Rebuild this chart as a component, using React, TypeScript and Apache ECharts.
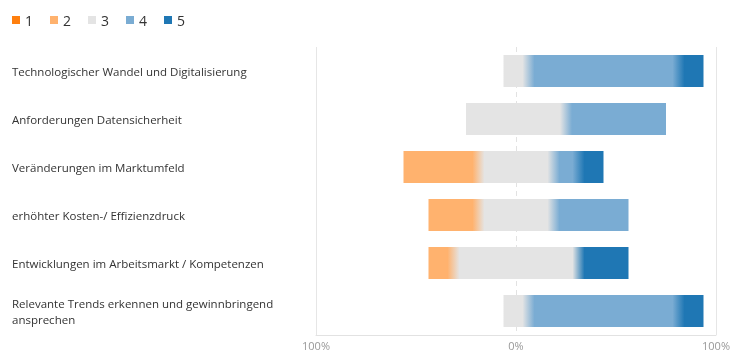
import React, { useEffect, useRef } from 'react';
import * as echarts from 'echarts';

const categories = [
  'Technologischer Wandel und Digitalisierung',
  'Anforderungen Datensicherheit',
  'Veränderungen im Marktumfeld',
  'erhöhter Kosten-/ Effizienzdruck',
  'Entwicklungen im Arbeitsmarkt / Kompetenzen',
  'Relevante Trends erkennen und gewinnbringend\nansprechen',
];

// percentage share of each answer (1..5) per category
const answer1 = [0, 0, 0, 0, 0, 0];
const answer2 = [0, 0, 37.5, 25, 12.5, 0];
const answer3 = [12.5, 50, 37.5, 37.5, 62.5, 12.5];
const answer4 = [75, 50, 12.5, 37.5, 0, 75];
const answer5 = [12.5, 0, 12.5, 0, 25, 12.5];

const legendLabels = ['1', '2', '3', '4', '5'];
const xTickMin = -100;
const xTickMax = 100;
const xTickStep = 100;

const COLORS = ['#ff7f0e', '#ffb26e', '#e4e4e4', '#7aacd3', '#1f77b4'];
const FONT = '"Open Sans", "Noto Sans", sans-serif';

const GRID = { left: 316, right: 26, top: 47, bottom: 21 };
const CHART_W = 742;
const CHART_H = 356;
const BLEND_PX = 6;

const rows = categories.map((_, i) => [
  i,
  answer1[i],
  answer2[i],
  answer3[i],
  answer4[i],
  answer5[i],
]);

function renderRow(params: any, api: any) {
  const i = api.value(0);
  const vals = [api.value(1), api.value(2), api.value(3), api.value(4), api.value(5)];
  // neutral answer (3) is centred on zero
  const start = -(vals[0] + vals[1] + vals[2] / 2);
  const bounds: number[] = [start];
  vals.forEach((v) => bounds.push(bounds[bounds.length - 1] + v));
  const xs = bounds.map((b) => api.coord([b, i])[0]);
  const yc = api.coord([0, i])[1];
  const h = api.size([0, 1])[1] * (2 / 3);
  const x0 = xs[0];
  const x1 = xs[xs.length - 1];
  const w = x1 - x0;
  if (w <= 0) return null;

  const segs: { l: number; r: number; c: string }[] = [];
  vals.forEach((v, k) => {
    if (v > 0) segs.push({ l: xs[k], r: xs[k + 1], c: COLORS[k] });
  });
  const stops: { offset: number; color: string }[] = [];
  segs.forEach((s, k) => {
    const half = (s.r - s.l) / 2;
    const a = k > 0 ? s.l + Math.min(BLEND_PX, half) : s.l;
    const b = k < segs.length - 1 ? s.r - Math.min(BLEND_PX, half) : s.r;
    stops.push({ offset: (a - x0) / w, color: s.c });
    stops.push({ offset: (b - x0) / w, color: s.c });
  });

  return {
    type: 'rect',
    shape: { x: x0, y: yc - h / 2, width: w, height: h },
    style: { fill: new echarts.graphic.LinearGradient(0, 0, 1, 0, stops) },
  };
}

export default function App() {
  const ref = useRef<HTMLDivElement>(null);
  useEffect(() => {
    if (!ref.current) return;
    const chart = echarts.init(ref.current, null, { renderer: 'svg' });
    const legendSeries = legendLabels.map((name, k) => ({
      name,
      type: 'bar',
      data: [],
      itemStyle: { color: COLORS[k] },
    }));
    chart.setOption({
      animation: false,
      textStyle: { fontFamily: FONT },
      legend: {
        data: legendLabels,
        left: 12,
        top: 13,
        padding: 0,
        icon: 'rect',
        itemWidth: 8,
        itemHeight: 8,
        itemGap: 17,
        selectedMode: false,
        textStyle: { fontSize: 14, color: '#333', fontFamily: FONT },
      },
      grid: { ...GRID, containLabel: false },
      xAxis: [
        {
          type: 'value',
          min: xTickMin,
          max: xTickMax,
          interval: xTickStep,
          axisLine: { show: true, lineStyle: { color: '#e2e2e2' } },
          axisTick: { show: false },
          axisLabel: {
            color: '#999',
            fontSize: 11,
            margin: 5,
            fontFamily: FONT,
            formatter: (v: number) => Math.abs(v) + '%',
          },
          splitLine: {
            show: true,
            lineStyle: { color: ['#e6e6e6', 'rgba(0,0,0,0)', '#e6e6e6'], width: 1 },
          },
        },
        {
          type: 'value',
          min: xTickMin,
          max: xTickMax,
          interval: xTickStep,
          position: 'top',
          axisLine: { show: false },
          axisTick: { show: false },
          axisLabel: { show: false },
          splitLine: {
            show: true,
            lineStyle: {
              color: ['rgba(0,0,0,0)', '#e2e2e2', 'rgba(0,0,0,0)'],
              type: [5, 4],
              width: 1,
            },
          },
        },
      ],
      yAxis: {
        type: 'category',
        data: categories,
        inverse: true,
        axisLine: { show: false },
        axisTick: { show: false },
        splitLine: { show: false },
        axisLabel: {
          align: 'left',
          margin: GRID.left - 12,
          fontSize: 11.5,
          lineHeight: 16,
          color: '#333',
          fontFamily: FONT,
        },
      },
      series: [
        ...legendSeries,
        {
          name: 'responses',
          type: 'custom',
          xAxisIndex: 0,
          yAxisIndex: 0,
          encode: { y: 0, x: [1, 2, 3, 4, 5] },
          renderItem: renderRow,
          data: rows,
        },
      ],
    });
    return () => chart.dispose();
  }, []);
  return (
    <div
      ref={ref}
      style={{ position: 'fixed', left: 0, top: 0, width: CHART_W, height: CHART_H }}
    />
  );
}
